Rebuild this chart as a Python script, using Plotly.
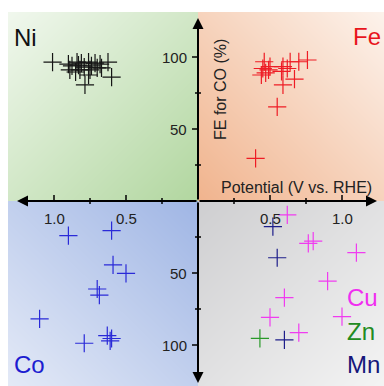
import numpy as np
import plotly.graph_objects as go

# ---------------- data (potential in V vs RHE, FE for CO in %) ----------------
ni_pot = [1.01, 0.90, 0.89, 0.875, 0.84, 0.83, 0.82, 0.81, 0.79, 0.785, 0.76,
          0.75, 0.74, 0.715, 0.70, 0.68, 0.67, 0.625, 0.60, 0.85, 0.76]
ni_fe = [96.5, 95.1, 91.0, 93.8, 96.5, 94.4, 91.0, 95.8, 93.0, 80.6, 96.5,
         91.0, 93.8, 95.8, 92.4, 95.1, 92.4, 96.5, 86.0, 89.6, 87.5]

fe_pot = [0.46, 0.49, 0.44, 0.50, 0.59, 0.64, 0.70, 0.76, 0.67, 0.59, 0.55,
          0.40, 0.47, 0.45, 0.58, 0.62]
fe_fe = [96.7, 91.0, 87.5, 93.3, 93.3, 96.7, 96.7, 97.9, 84.7, 80.6, 65.4,
         29.6, 89.0, 92.0, 90.0, 92.0]

co_pot = [0.90, 0.60, 0.59, 0.50, 0.70, 0.685, 1.10, 0.79, 0.63, 0.61, 0.60]
co_fe = [24.1, 20.6, 44.4, 50.2, 61.1, 65.3, 81.9, 98.8, 93.5, 97.2, 95.5]

cu_pot = [0.62, 0.766, 0.80, 1.10, 0.90, 0.60, 0.50, 1.00, 0.70]
cu_fe = [9.7, 29.4, 27.8, 35.9, 55.6, 67.1, 80.8, 80.3, 91.4]

zn_pot = [0.43]
zn_fe = [95.4]

mn_pot = [0.52, 0.55, 0.60]
mn_fe = [17.8, 39.4, 96.5]

pot_major = [0.5, 1.0]
pot_minor = [0.25, 0.75]
fe_major = [50, 100]
fe_minor = [25, 75]
pot_labels = ["0.5", "1.0"]
fe_labels = ["50", "100"]

# ---------------- geometry ----------------
W, H = 384, 386
ML, MT = 8, 12
CX, CY = 198, 201          # pixel position of the origin
PXV, PXF = 144.0, 1.44     # pixels per volt / per percent
xmin, xmax = (ML - CX) / PXV, (W - CX) / PXV
ymin, ymax = (CY - H) / PXF, (CY - MT) / PXF

FONT = "Liberation Sans, Arial, sans-serif"

# ---------------- gradient background ----------------
PW, PH = W - ML, H - MT
dx = (xmax - xmin) / PW
dy = (ymax - ymin) / PH
xs = xmin + (np.arange(PW) + 0.5) * dx
ys = ymin + (np.arange(PH) + 0.5) * dy
XX, YY = np.meshgrid(xs, ys)

quads = {
    # (x sign, y sign): (colour near origin, colour at outer corner)
    (-1, 1): ((178, 215, 160), (241, 248, 238)),   # Ni green
    (1, 1): ((241, 180, 142), (253, 243, 236)),    # Fe orange
    (-1, -1): ((160, 182, 229), (228, 234, 247)),  # Co blue
    (1, -1): ((207, 207, 209), (244, 244, 244)),   # grey
}
img = np.zeros((PH, PW, 3), dtype=float)
for (sx, sy), (c0, c1) in quads.items():
    mask = (np.sign(XX) == sx) & (np.sign(YY) == sy)
    u = np.abs(XX) / (abs(xmin) if sx < 0 else xmax)
    v = np.abs(YY) / (ymax if sy > 0 else abs(ymin))
    t = np.clip((u + v) / 2.0, 0, 1)
    for k in range(3):
        img[..., k] = np.where(mask, c0[k] + (c1[k] - c0[k]) * t, img[..., k])
img = img.astype(np.uint8)

fig = go.Figure()
fig.add_trace(go.Image(z=img, x0=xs[0], dx=dx, y0=ys[0], dy=dy,
                       hoverinfo="skip"))


def add_series(pot, fe, sx, sy, color):
    fig.add_trace(go.Scatter(
        x=[sx * p for p in pot], y=[sy * f for f in fe], mode="markers",
        marker=dict(symbol="cross-thin", size=13,
                    line=dict(width=1.2, color=color)),
        showlegend=False, hoverinfo="skip"))


add_series(ni_pot, ni_fe, -1, 1, "#151515")
add_series(fe_pot, fe_fe, 1, 1, "#ee1c25")
add_series(co_pot, co_fe, -1, -1, "#2a2ad8")
add_series(cu_pot, cu_fe, 1, -1, "#f03cf0")
add_series(zn_pot, zn_fe, 1, -1, "#2a9a2a")
add_series(mn_pot, mn_fe, 1, -1, "#1e1e8a")

ann = []
shapes = []

# axes with arrows
for (ex, ey) in [(0, (CY - 18) / PXF), (0, -(383 - CY) / PXF),
                 (-(CX - 17) / PXV, 0), ((377 - CX) / PXV, 0)]:
    ann.append(dict(x=ex, y=ey, ax=0, ay=0, xref="x", yref="y", axref="x",
                    ayref="y", text="", showarrow=True, arrowhead=2,
                    arrowsize=1.1, arrowwidth=2, arrowcolor="black",
                    standoff=0, startstandoff=0))

# ticks
for s in (-1, 1):
    for v in fe_major:
        shapes.append(dict(type="line", xref="x", yref="y", xsizemode="pixel",
                           xanchor=0, x0=-6, x1=1, y0=s * v, y1=s * v,
                           line=dict(color="black", width=1.5)))
    for v in fe_minor:
        shapes.append(dict(type="line", xref="x", yref="y", xsizemode="pixel",
                           xanchor=0, x0=-3, x1=3, y0=s * v, y1=s * v,
                           line=dict(color="black", width=1.5)))
    for v in pot_major:
        shapes.append(dict(type="line", xref="x", yref="y", ysizemode="pixel",
                           yanchor=0, y0=-1, y1=6, x0=s * v, x1=s * v,
                           line=dict(color="black", width=1.5)))
    for v in pot_minor:
        shapes.append(dict(type="line", xref="x", yref="y", ysizemode="pixel",
                           yanchor=0, y0=-3, y1=3, x0=s * v, x1=s * v,
                           line=dict(color="black", width=1.5)))

# tick labels
tickfont = dict(family=FONT, size=15, color="#222222")
for s in (-1, 1):
    for v, lab in zip(pot_major, pot_labels):
        ann.append(dict(x=s * v, y=0, xref="x", yref="y", text=lab,
                        showarrow=False, yshift=-17, font=tickfont))
    for v, lab in zip(fe_major, fe_labels):
        ann.append(dict(x=0, y=s * v, xref="x", yref="y", text=lab,
                        showarrow=False, xanchor="right", xshift=-9,
                        font=tickfont))

# axis titles
titlefont = dict(family=FONT, size=16, color="#222222")
ann.append(dict(x=(220 - CX) / PXV, y=(CY - 90) / PXF, xref="x", yref="y",
                text="FE for CO (%)", textangle=-90, showarrow=False,
                font=titlefont))
ann.append(dict(x=(296 - CX) / PXV, y=(CY - 187) / PXF, xref="x", yref="y",
                text="Potential (V vs. RHE)", showarrow=False, font=titlefont))

# element labels
def lab(text, px, py, color, anchor):
    ann.append(dict(x=(px - CX) / PXV, y=(CY - py) / PXF, xref="x", yref="y",
                    text=text, showarrow=False, xanchor=anchor,
                    font=dict(family=FONT, size=24, color=color)))


lab("Ni", 12, 37, "#111111", "left")
lab("Fe", 383, 36, "#e8141c", "right")
lab("Co", 12, 364, "#1c1cd0", "left")
lab("Cu", 345, 297, "#f02ef0", "left")
lab("Zn", 345, 331, "#228b22", "left")
lab("Mn", 345, 364, "#16167a", "left")

fig.update_layout(
    width=W, height=H, margin=dict(l=ML, r=0, t=MT, b=0),
    paper_bgcolor="white", plot_bgcolor="white",
    xaxis=dict(range=[xmin, xmax], visible=False, showgrid=False,
               zeroline=False, fixedrange=True),
    yaxis=dict(range=[ymin, ymax], visible=False, showgrid=False,
               zeroline=False, fixedrange=True, scaleanchor=False,
               autorange=False),
    annotations=ann, shapes=shapes, showlegend=False,
)
fig.write_html("out.html")
